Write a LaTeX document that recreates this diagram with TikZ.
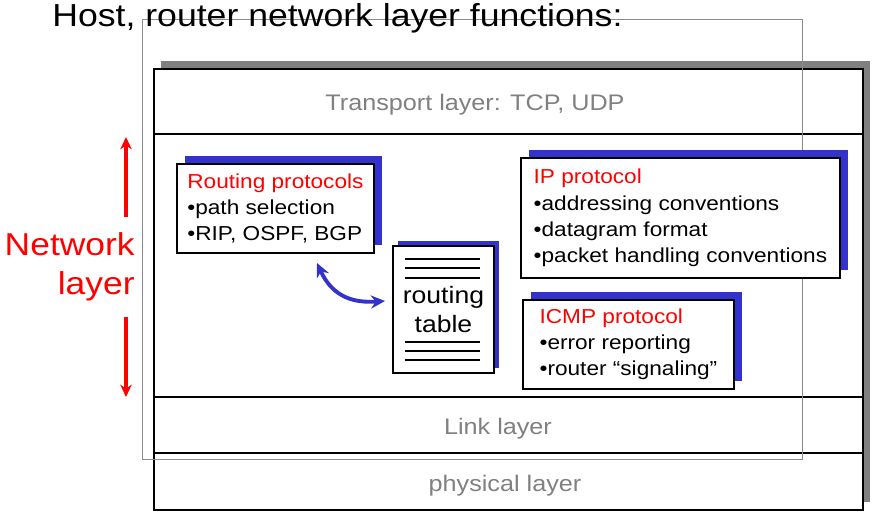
\documentclass[tikz,border=0pt]{standalone}
\usepackage{fontspec}
\setmainfont{Liberation Sans}[FakeStretch=1.12]
\usepackage{tikz}
\usetikzlibrary{arrows.meta,shadows}
\usepackage{xcolor}
\definecolor{protoblue}{RGB}{51,51,204}
\definecolor{layergray}{RGB}{128,128,128}
\definecolor{netred}{RGB}{255,0,0}

\begin{document}
\begin{tikzpicture}[
  x=0.02cm, y=-0.02cm,
  protobox/.style={draw=black, line width=1.1pt, fill=white, align=left, anchor=north west, inner sep=0pt,
    font=\fontsize{11.5pt}{14.9pt}\selectfont},
  proto/.style={protobox, drop shadow={shadow xshift=4.5pt, shadow yshift=4.5pt, fill=protoblue, opacity=1}},
  layer/.style={text=layergray, font=\fontsize{12.8pt}{15pt}\selectfont, anchor=base, inner sep=0pt},
  sep/.style={line width=1.2pt, draw=black},
  redarr/.style={-{Stealth[length=7pt,width=6.5pt]}, line width=2.1pt, draw=netred},
  bluearr/.style={{Stealth[length=8pt,width=7.5pt]}-{Stealth[length=8pt,width=7.5pt]}, line width=2.2pt, draw=protoblue}
]
\useasboundingbox (0,0) rectangle (889,530);
% protocol stack frame
\node[draw=black, line width=1.3pt, fill=white, anchor=north west, inner sep=0pt,
  minimum width=14.18cm, minimum height=8.82cm,
  drop shadow={shadow xshift=4pt, shadow yshift=4.5pt, fill=layergray, opacity=1}] (stack) at (153,68) {};
\foreach \y in {134,397,453}
  \draw[sep] (153,\y) -- (862,\y);
\draw[line width=0.5pt, draw=black!45] (142,19) rectangle (802,459);
\node[font=\fontsize{18.1pt}{22pt}\selectfont, anchor=base west, inner sep=0pt] (title) at (52,27) {Host, router network layer functions:};
\node[layer] (transp) at (475,111) {Transport layer: TCP, UDP};
\node[layer] (link) at (498,434) {Link layer};
\node[layer] (phys) at (505,491) {physical layer};
% network layer label
\node[text=netred, font=\fontsize{18pt}{22pt}\selectfont, align=right, anchor=east, inner sep=0pt] (netlbl) at (135,267) {Network\\layer};
\coordinate (nt0) at (126,217);
\coordinate (nt) at (126,137);
\coordinate (nb0) at (126,317);
\coordinate (nb) at (126,397);
\draw[redarr] (nt0) -- (nt);
\draw[redarr] (nb0) -- (nb);
% boxes
\node[proto, minimum width=3.94cm, minimum height=1.78cm] (rp) at (176,163) {\textcolor{netred}{Routing protocols}\\•path selection\\•RIP, OSPF, BGP};
\node[proto, minimum width=6.38cm, minimum height=2.4cm] (ip) at (520,157) {\textcolor{netred}{IP protocol}\\•addressing conventions\\•datagram format\\•packet handling conventions};
\node[proto, minimum width=4.22cm, minimum height=1.78cm] (icmp) at (522,299) {\textcolor{netred}{ICMP protocol}\\•error reporting\\•router “signaling”};
\node[protobox, align=center, minimum width=2.02cm, minimum height=2.54cm, font=\fontsize{13.5pt}{16.4pt}\selectfont,
  drop shadow={shadow xshift=2.8pt, shadow yshift=2.8pt, fill=protoblue, opacity=1}] (rt) at (392,245) {routing\\table};
\foreach \y in {259,268,278,342,351,360}
  \draw[line width=0.9pt] (405,\y) -- (480,\y);
% routing protocols <-> routing table
\coordinate (bl1) at (317,263);
\coordinate (bl2) at (385,301);
\draw[bluearr] (bl1) .. controls (333,298) and (355,303) .. (bl2);
\end{tikzpicture}
\end{document}
